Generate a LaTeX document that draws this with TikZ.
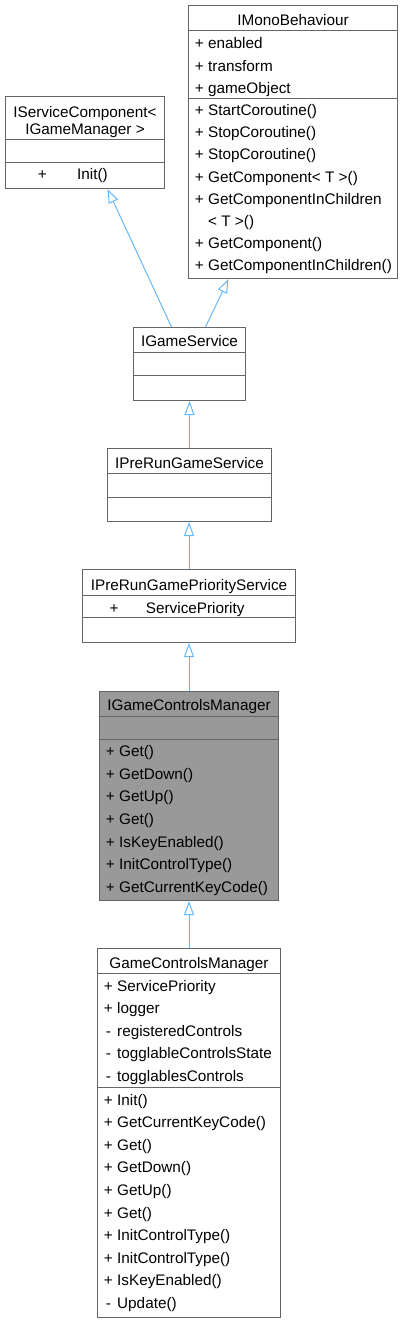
\documentclass[tikz,border=0pt]{standalone}
\usepackage{fontspec}
\setmainfont{Liberation Sans}
\usetikzlibrary{arrows.meta, calc}

\definecolor{boxgray}{HTML}{666666}
\definecolor{focusgray}{HTML}{999999}
\definecolor{edgeblue}{HTML}{63B8FF}

\newcommand{\vis}[2]{\makebox[17.5pt][c]{#1}#2}

\begin{document}
\begin{tikzpicture}[x=1pt, y=-1pt, font=\fontsize{15.3}{17}\selectfont,
    classbox/.style={draw=boxgray, fill=white, line width=1pt, inner sep=0pt, anchor=north west},
    sepline/.style={draw=boxgray, line width=1pt},
    title/.style={anchor=base, inner sep=0pt},
    member/.style={anchor=base west, inner sep=0pt},
    inherit/.style={draw=edgeblue, line width=1pt, -{Triangle[open, length=14pt, width=10pt]}}]
    \useasboundingbox (0,0) rectangle (402,1321);

    % IMonoBehaviour
    \node[classbox, minimum width=209pt, minimum height=273pt] (mono) at (188,5) {};
    \draw[sepline] ($(mono.north west)+(0,26)$) -- ($(mono.north east)+(0,26)$);
    \draw[sepline] ($(mono.north west)+(0,94)$) -- ($(mono.north east)+(0,94)$);
    \node[title] (mono-t) at ($(mono.north)+(0,21)$) {IMonoBehaviour};
    \foreach \m [count=\i from 0] in {enabled, transform, gameObject}
        \node[member] (mono-a\i) at ($(mono.north west)+(2.5,43.8+22.5*\i)$) {\vis{+}{\m}};
    \foreach \v/\m [count=\i from 0] in {+/StartCoroutine(), +/StopCoroutine(), +/StopCoroutine(),
            +/GetComponent< T >(), +/GetComponentInChildren, /< T >(), +/GetComponent(),
            +/GetComponentInChildren()}
        \node[member] (mono-m\i) at ($(mono.north west)+(2.5,110.8+22.1*\i)$) {\vis{\v}{\m}};

    % IServiceComponent< IGameManager >
    \node[classbox, minimum width=159pt, minimum height=92pt] (svc) at (5,96) {};
    \draw[sepline] ($(svc.north west)+(0,44)$) -- ($(svc.north east)+(0,44)$);
    \draw[sepline] ($(svc.north west)+(0,67)$) -- ($(svc.north east)+(0,67)$);
    \node[title] (svc-t1) at ($(svc.north)+(0,21.7)$) {IServiceComponent<};
    \node[title] (svc-t2) at ($(svc.north)+(0,38.3)$) {IGameManager >};
    \node[member] (svc-v0) at ($(svc.north west)+(32.7,84)$) {+};
    \node[member] (svc-m0) at ($(svc.north west)+(72,84)$) {Init()};

    % IGameService
    \node[classbox, minimum width=112pt, minimum height=73pt] (igs) at (133,327) {};
    \draw[sepline] ($(igs.north west)+(0,25)$) -- ($(igs.north east)+(0,25)$);
    \draw[sepline] ($(igs.north west)+(0,48)$) -- ($(igs.north east)+(0,48)$);
    \node[title] (igs-t) at ($(igs.north)+(0,19.5)$) {IGameService};

    % IPreRunGameService
    \node[classbox, minimum width=164pt, minimum height=73pt] (prerun) at (107,448) {};
    \draw[sepline] ($(prerun.north west)+(0,25)$) -- ($(prerun.north east)+(0,25)$);
    \draw[sepline] ($(prerun.north west)+(0,49)$) -- ($(prerun.north east)+(0,49)$);
    \node[title] (prerun-t) at ($(prerun.north)+(0,20.3)$) {IPreRunGameService};

    % IPreRunGamePriorityService
    \node[classbox, minimum width=213pt, minimum height=73pt] (prio) at (82,569) {};
    \draw[sepline] ($(prio.north west)+(0,26)$) -- ($(prio.north east)+(0,26)$);
    \draw[sepline] ($(prio.north west)+(0,48)$) -- ($(prio.north east)+(0,48)$);
    \node[title] (prio-t) at ($(prio.north)+(0,21)$) {IPreRunGamePriorityService};
    \node[member] (prio-v0) at ($(prio.north west)+(27.3,44.3)$) {+};
    \node[member] (prio-a0) at ($(prio.north west)+(63.7,44.3)$) {ServicePriority};

    % IGameControlsManager
    \node[classbox, fill=focusgray, minimum width=179pt, minimum height=209pt] (igcm) at (99,691) {};
    \draw[sepline] ($(igcm.north west)+(0,25)$) -- ($(igcm.north east)+(0,25)$);
    \draw[sepline] ($(igcm.north west)+(0,48)$) -- ($(igcm.north east)+(0,48)$);
    \node[title] (igcm-t) at ($(igcm.north)+(0,19.7)$) {IGameControlsManager};
    \foreach \m [count=\i from 0] in {Get(), GetDown(), GetUp(), Get(), IsKeyEnabled(),
            InitControlType(), GetCurrentKeyCode()}
        \node[member] (igcm-m\i) at ($(igcm.north west)+(2.5,65.7+22.6*\i)$) {\vis{+}{\m}};

    % GameControlsManager
    \node[classbox, minimum width=183pt, minimum height=369pt] (gcm) at (97,948) {};
    \draw[sepline] ($(gcm.north west)+(0,25)$) -- ($(gcm.north east)+(0,25)$);
    \draw[sepline] ($(gcm.north west)+(0,139)$) -- ($(gcm.north east)+(0,139)$);
    \node[title] (gcm-t) at ($(gcm.north)+(0,20.3)$) {GameControlsManager};
    \foreach \v/\m [count=\i from 0] in {+/ServicePriority, +/logger, -/registeredControls,
            -/togglableControlsState, -/togglablesControls}
        \node[member] (gcm-a\i) at ($(gcm.north west)+(2.5,43+22.6*\i)$) {\vis{\v}{\m}};
    \foreach \v/\m [count=\i from 0] in {+/Init(), +/GetCurrentKeyCode(), +/Get(), +/GetDown(),
            +/GetUp(), +/Get(), +/InitControlType(), +/InitControlType(), +/IsKeyEnabled(), -/Update()}
        \node[member] (gcm-m\i) at ($(gcm.north west)+(2.5,157+22.6*\i)$) {\vis{\v}{\m}};

    % inheritance
    \coordinate (svc-in) at ($(svc.south)+(22.5,0)$);
    \coordinate (mono-in) at ($(mono.south)+(-64.5,0)$);
    \coordinate (igs-out1) at ($(igs.north)+(-18,0)$);
    \coordinate (igs-out2) at ($(igs.north)+(16,0)$);
    \draw[inherit] (igs-out1) -- (svc-in);
    \draw[inherit] (igs-out2) -- (mono-in);
    \draw[inherit] (prerun.north) -- (prerun.north |- igs.south);
    \draw[inherit] (prio.north) -- (prio.north |- prerun.south);
    \draw[inherit] (igcm.north) -- (igcm.north |- prio.south);
    \draw[inherit] (gcm.north) -- (gcm.north |- igcm.south);
\end{tikzpicture}
\end{document}
